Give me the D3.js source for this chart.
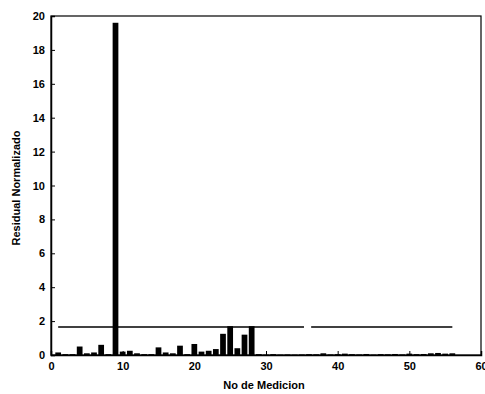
<!DOCTYPE html>
<html>
<head>
<meta charset="utf-8">
<script src="https://cdn.jsdelivr.net/npm/d3@7"></script>
<style>
  body { margin: 0; background: #fff; }
  text { font-family: "Liberation Sans", Arial, sans-serif; fill: #000; }
</style>
</head>
<body>
<div id="chart"></div>
<script>
// measurement numbers 1..56 and the normalized residual of each
const medicion = d3.range(1, 57);
const residual = [
  0.15, 0.05, 0.05, 0.5, 0.1, 0.15, 0.6, 0.05, 19.6, 0.2,
  0.25, 0.1, 0.05, 0.05, 0.45, 0.15, 0.1, 0.55, 0.05, 0.65,
  0.2, 0.25, 0.35, 1.25, 1.7, 0.4, 1.2, 1.7, 0.05, 0.02,
  0.05, 0.02, 0.03, 0.02, 0.03, 0.05, 0.04, 0.1, 0.03, 0.05,
  0.08, 0.05, 0.03, 0.06, 0.02, 0.05, 0.04, 0.06, 0.03, 0.08,
  0.05, 0.06, 0.1, 0.12, 0.08, 0.1
];
// threshold line segments (scan shows a small break near 35)
const umbralTramos = [[1, 35.3], [36.3, 56]];
const umbral = 1.65;
const xTicks = [0, 10, 20, 30, 40, 50, 60];
const yTicks = [0, 2, 4, 6, 8, 10, 12, 14, 16, 18, 20];

const width = 485, height = 394;
const margin = { top: 16, right: 4, bottom: 39, left: 51 };

const svg = d3.select("#chart").append("svg")
  .attr("width", width)
  .attr("height", height);

const x = d3.scaleLinear().domain([0, 60]).range([margin.left, width - margin.right]);
const y = d3.scaleLinear().domain([0, 20]).range([height - margin.bottom, margin.top]);

const barW = (x(1) - x(0)) * 0.8;

// bars
svg.append("g")
  .selectAll("rect")
  .data(medicion)
  .join("rect")
  .attr("x", d => x(d) - barW / 2)
  .attr("y", (d, i) => y(residual[i]))
  .attr("width", barW)
  .attr("height", (d, i) => y(0) - y(residual[i]))
  .attr("fill", "#000");

// threshold
svg.append("g")
  .selectAll("line")
  .data(umbralTramos)
  .join("line")
  .attr("x1", d => x(d[0]))
  .attr("x2", d => x(d[1]))
  .attr("y1", y(umbral))
  .attr("y2", y(umbral))
  .attr("stroke", "#000")
  .attr("stroke-width", 1.5);

// axes, MATLAB style: ticks inside, box around
const xAxis = svg.append("g")
  .attr("transform", `translate(0,${y(0)})`)
  .call(d3.axisBottom(x).tickValues(xTicks).tickSize(-4).tickPadding(7));
const yAxis = svg.append("g")
  .attr("transform", `translate(${x(0)},0)`)
  .call(d3.axisLeft(y).tickValues(yTicks).tickSize(-4).tickPadding(6));

[xAxis, yAxis].forEach(a => {
  a.select(".domain").attr("stroke", "#000").attr("stroke-width", 1.5);
  a.selectAll(".tick line").attr("stroke", "#000");
  a.selectAll(".tick text").attr("font-size", 11).attr("font-weight", "bold")
    .attr("font-family", "\"Liberation Sans\", Arial, sans-serif");
});

svg.append("rect")
  .attr("x", x(0))
  .attr("y", y(20))
  .attr("width", x(60) - x(0))
  .attr("height", y(0) - y(20))
  .attr("fill", "none")
  .attr("stroke", "#000")
  .attr("stroke-width", 1.2);

// labels
svg.append("text")
  .attr("x", 264)
  .attr("y", 389)
  .attr("text-anchor", "middle")
  .attr("font-size", 11)
  .attr("font-weight", "bold")
  .text("No de Medicion");

svg.append("text")
  .attr("transform", "translate(20,188) rotate(-90)")
  .attr("text-anchor", "middle")
  .attr("font-size", 11)
  .attr("font-weight", "bold")
  .text("Residual Normalizado");
</script>
</body>
</html>
